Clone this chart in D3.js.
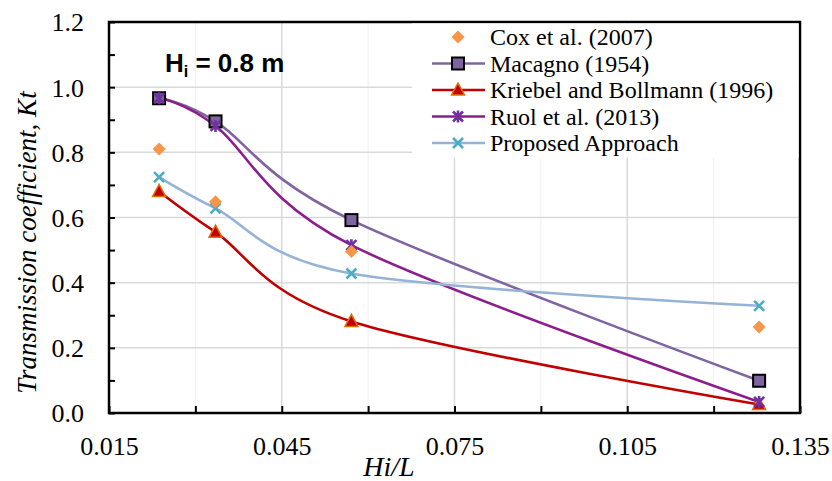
<!DOCTYPE html>
<html>
<head>
<meta charset="utf-8">
<script src="https://cdn.jsdelivr.net/npm/d3@7"></script>
<style>
  html, body { margin: 0; padding: 0; background: #fff; }
  svg { display: block; }
</style>
</head>
<body>
<svg id="chart" width="832" height="481"></svg>
<script>
// ---- data ----
const hiL = [0.0237, 0.0335, 0.0571, 0.1279];
const cox = [0.810, 0.648, 0.496, 0.264];
const macagno = [0.966, 0.895, 0.592, 0.099];
const kriebel = [0.680, 0.555, 0.281, 0.026];
const ruol = [0.966, 0.881, 0.515, 0.034];
const proposed = [0.724, 0.628, 0.428, 0.329];
const seriesNames = ["Cox et al. (2007)", "Macagno (1954)", "Kriebel and Bollmann (1996)", "Ruol et al. (2013)", "Proposed Approach"];
const xTicks = [0.015, 0.045, 0.075, 0.105, 0.135];
const yTicks = [0.0, 0.2, 0.4, 0.6, 0.8, 1.0, 1.2];

// ---- layout ----
const W = 832, H = 481;
const m = { left: 109, top: 22, right: 32, bottom: 68 };
const pw = W - m.left - m.right, ph = H - m.top - m.bottom;
const svg = d3.select("#chart");
const x = d3.scaleLinear().domain([0.015, 0.135]).range([m.left, m.left + pw]);
const y = d3.scaleLinear().domain([0, 1.2]).range([m.top + ph, m.top]);

const serif = "'Liberation Serif','Times New Roman',serif";

// minor vertical gridlines (faint)
const xMinor = d3.range(0, 9).map(i => 0.015 + i * 0.015);
svg.append("g").selectAll("line").data(xMinor.filter(v => !xTicks.includes(+v.toFixed(3)))).join("line")
  .attr("x1", d => x(d)).attr("x2", d => x(d)).attr("y1", m.top).attr("y2", m.top + ph)
  .attr("stroke", "#F2F2F2").attr("stroke-width", 1.2);
// major gridlines
svg.append("g").selectAll("line").data(xTicks.slice(1, -1)).join("line")
  .attr("x1", d => x(d)).attr("x2", d => x(d)).attr("y1", m.top).attr("y2", m.top + ph)
  .attr("stroke", "#D9D9D9").attr("stroke-width", 1.5);
svg.append("g").selectAll("line").data(yTicks.slice(1, -1)).join("line")
  .attr("y1", d => y(d)).attr("y2", d => y(d)).attr("x1", m.left).attr("x2", m.left + pw)
  .attr("stroke", "#D9D9D9").attr("stroke-width", 1.5);

// axes with inner ticks
const yMinor = d3.range(0, 13).map(i => +(i * 0.1).toFixed(1));
const yAxis = d3.axisLeft(y).tickValues(yMinor).tickSize(-6).tickPadding(26)
  .tickFormat(d => yTicks.includes(d) ? d.toFixed(1) : "");
const xAxis = d3.axisBottom(x).tickValues(xMinor).tickSize(-7).tickPadding(24)
  .tickFormat(d => xTicks.some(t => Math.abs(t - d) < 1e-9) ? d.toFixed(3) : "");
const gy = svg.append("g").attr("transform", `translate(${m.left},0)`).call(yAxis);
const gx = svg.append("g").attr("transform", `translate(0,${m.top + ph})`).call(xAxis);
[gx, gy].forEach(g => {
  g.select(".domain").remove();
  g.selectAll(".tick line").attr("stroke", "#000").attr("stroke-width", 2);
  g.selectAll("text").attr("font-family", serif).attr("font-size", 26).attr("fill", "#000");
});
gy.selectAll("text").attr("dy", "0.34em").attr("x", -25);

// frame
svg.append("rect").attr("x", m.left).attr("y", m.top).attr("width", pw).attr("height", ph)
  .attr("fill", "none").attr("stroke", "#000").attr("stroke-width", 2.5);

// axis titles
svg.append("text").attr("transform", `translate(36,${m.top + ph / 2 + 25}) rotate(-90)`)
  .attr("text-anchor", "middle").attr("font-family", serif).attr("font-style", "italic")
  .attr("font-size", 27).text("Transmission coefficient, Kt");
svg.append("text").attr("x", 389).attr("y", 476).attr("text-anchor", "middle")
  .attr("font-family", serif).attr("font-style", "italic").attr("font-size", 28).text("Hi/L");

// annotation
const ann = svg.append("text").attr("x", 165).attr("y", 72)
  .attr("font-family", "'Liberation Sans',Arial,sans-serif").attr("font-weight", "bold").attr("font-size", 26);
ann.append("tspan").text("H");
ann.append("tspan").attr("font-size", 16).attr("dy", 5).text("i");
ann.append("tspan").attr("dy", -5).text(" = 0.8 m");

// series
const line = d3.line().x(d => x(d[0])).y(d => y(d[1])).curve(d3.curveCardinal.tension(0));
const zip = vals => hiL.map((h, i) => [h, vals[i]]);

const defs = [
  { name: seriesNames[1], vals: macagno, line: "#8064A2", marker: "square", fill: "#8064A2", stroke: "#000" },
  { name: seriesNames[2], vals: kriebel, line: "#C00000", marker: "triangle", fill: "#C00000", stroke: "#E46C0A" },
  { name: seriesNames[3], vals: ruol, line: "#8B1E8B", marker: "star", fill: "#7030A0", stroke: "#7030A0" },
  { name: seriesNames[4], vals: proposed, line: "#95B3D7", marker: "x", fill: "#4BACC6", stroke: "#4BACC6" },
  { name: seriesNames[0], vals: cox, line: null, marker: "diamond", fill: "#F79646", stroke: "#F79646" }
];

function drawMarker(g, type, cx, cy, fill, stroke) {
  if (type === "square") {
    g.append("rect").attr("x", cx - 6).attr("y", cy - 6).attr("width", 12).attr("height", 12)
      .attr("fill", fill).attr("stroke", stroke).attr("stroke-width", 2);
  } else if (type === "triangle") {
    g.append("path").attr("d", `M${cx},${cy - 7}L${cx + 6.5},${cy + 5}L${cx - 6.5},${cy + 5}Z`)
      .attr("fill", fill).attr("stroke", stroke).attr("stroke-width", 1.5);
  } else if (type === "diamond") {
    g.append("path").attr("d", `M${cx},${cy - 6.5}L${cx + 6.5},${cy}L${cx},${cy + 6.5}L${cx - 6.5},${cy}Z`)
      .attr("fill", fill);
  } else if (type === "x") {
    g.append("path").attr("d", `M${cx - 5},${cy - 5}L${cx + 5},${cy + 5}M${cx - 5},${cy + 5}L${cx + 5},${cy - 5}`)
      .attr("stroke", stroke).attr("stroke-width", 2.6).attr("fill", "none");
  } else if (type === "star") {
    g.append("path").attr("d", `M${cx - 5},${cy - 5}L${cx + 5},${cy + 5}M${cx - 5},${cy + 5}L${cx + 5},${cy - 5}M${cx},${cy - 6}L${cx},${cy + 6}`)
      .attr("stroke", stroke).attr("stroke-width", 2.6).attr("fill", "none");
  }
}

// lines first
defs.filter(d => d.line).forEach(d => {
  svg.append("path").datum(zip(d.vals)).attr("d", line)
    .attr("fill", "none").attr("stroke", d.line).attr("stroke-width", 2.6);
});
// markers
defs.forEach(d => {
  const g = svg.append("g");
  zip(d.vals).forEach(p => drawMarker(g, d.marker, x(p[0]), y(p[1]), d.fill, d.stroke));
});

// legend
const lg = svg.append("g");
lg.append("rect").attr("x", 412).attr("y", m.top + 1.5).attr("width", 800 - 412 - 1.5).attr("height", 134).attr("fill", "#fff");
const order = [defs[4], defs[0], defs[1], defs[2], defs[3]];
order.forEach((d, i) => {
  const cy = 37 + i * 26.5;
  if (d.line) lg.append("line").attr("x1", 432).attr("x2", 485).attr("y1", cy).attr("y2", cy)
    .attr("stroke", d.line).attr("stroke-width", 2.6);
  drawMarker(lg, d.marker, 458, cy, d.fill, d.stroke);
  lg.append("text").attr("x", 490).attr("y", cy + 8).attr("font-family", serif).attr("font-size", 24)
    .text(d.name);
});
</script>
</body>
</html>
